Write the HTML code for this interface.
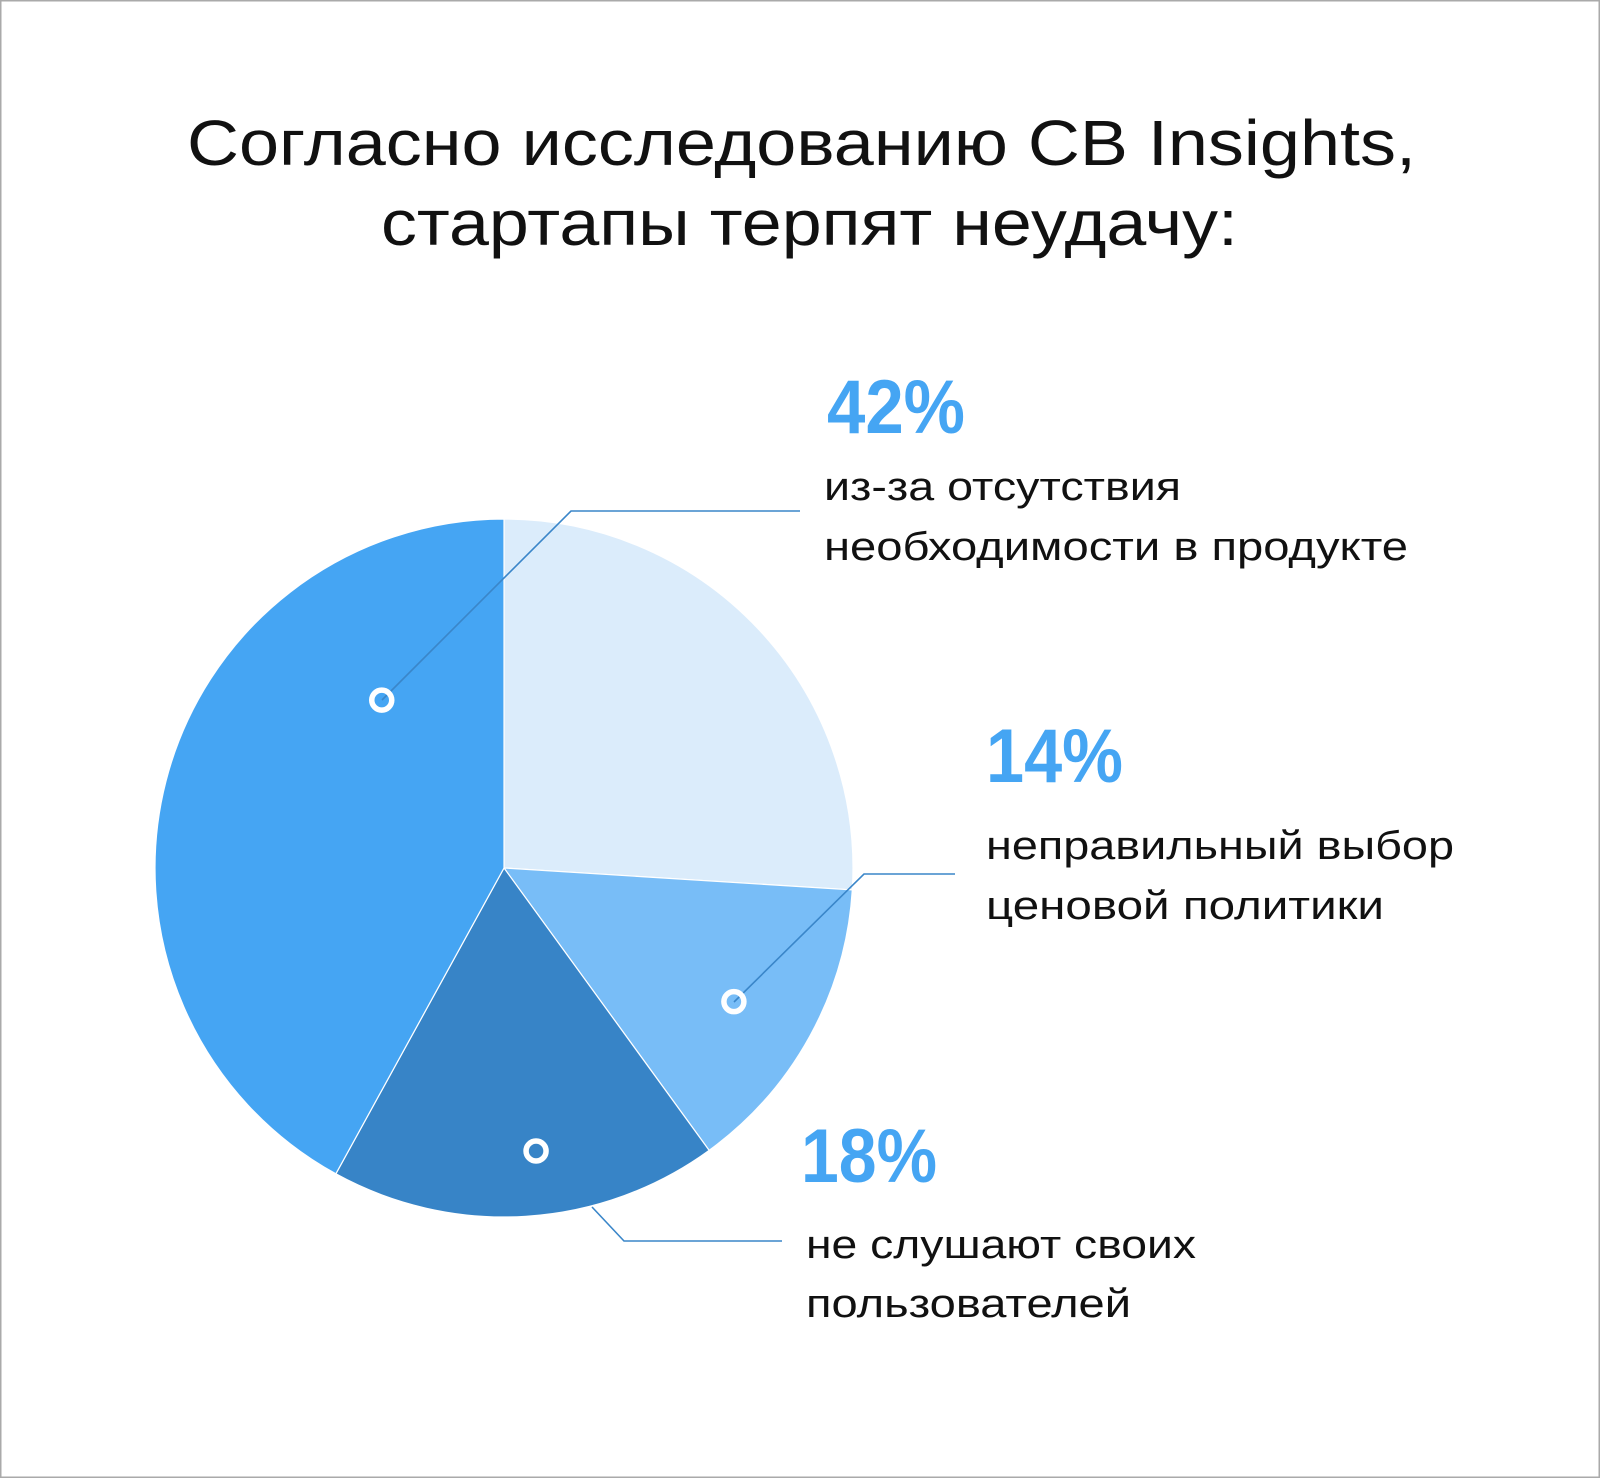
<!DOCTYPE html>
<html><head><meta charset="utf-8">
<style>
html,body{margin:0;padding:0;background:#fff;}
svg{display:block;}
text{font-family:"Liberation Sans","Noto Sans CJK SC",sans-serif;}
</style></head>
<body>
<svg id="chart" width="1600" height="1478" viewBox="0 0 1600 1478" xmlns="http://www.w3.org/2000/svg">
<rect x="0.5" y="0.5" width="1599" height="1477" fill="#fff" stroke="#aaa" stroke-width="2"/>
<text x="187" y="165" font-size="64" fill="#111" textLength="1229" lengthAdjust="spacingAndGlyphs">Согласно исследованию CB Insights,</text>
<text x="381" y="245" font-size="64" fill="#111" textLength="857" lengthAdjust="spacingAndGlyphs">стартапы терпят неудачу:</text>
<g id="slices"></g>
<g id="leaders" stroke="#3a86c9" stroke-width="1.6" fill="none">
<polyline points="382,700 571,511 800,511"/>
<polyline points="734,1002 864,874 955,874"/>
<polyline points="592,1207 624,1241 782,1241"/>
</g>
<g id="markers"></g>
<g>
<text x="827" y="433" font-size="76" font-weight="bold" fill="#45a5f3" textLength="138" lengthAdjust="spacingAndGlyphs">42%</text>
<text x="824" y="500" font-size="40" fill="#111" textLength="357" lengthAdjust="spacingAndGlyphs">из-за отсутствия</text>
<text x="824" y="560" font-size="40" fill="#111" textLength="584" lengthAdjust="spacingAndGlyphs">необходимости в продукте</text>
</g>
<g>
<text x="986" y="782" font-size="76" font-weight="bold" fill="#45a5f3" textLength="137" lengthAdjust="spacingAndGlyphs">14%</text>
<text x="986" y="859" font-size="40" fill="#111" textLength="468" lengthAdjust="spacingAndGlyphs">неправильный выбор</text>
<text x="986" y="919" font-size="40" fill="#111" textLength="398" lengthAdjust="spacingAndGlyphs">ценовой политики</text>
</g>
<g>
<text x="801" y="1182" font-size="76" font-weight="bold" fill="#45a5f3" textLength="136" lengthAdjust="spacingAndGlyphs">18%</text>
<text x="806" y="1258" font-size="40" fill="#111" textLength="390" lengthAdjust="spacingAndGlyphs">не слушают своих</text>
<text x="806" y="1317" font-size="40" fill="#111" textLength="325" lengthAdjust="spacingAndGlyphs">пользователей</text>
</g>
</svg>
<script>
const categories = ["other", "pricing", "not-listening", "no-market-need"];
const values = [26, 14, 18, 42];
const colors = ["#dbecfb", "#78bdf7", "#3784c7", "#45a5f3"];
const markerSlices = [3, 1, 2];

const NS = "http://www.w3.org/2000/svg";
const cx = 504, cy = 868, r = 349;
const total = values.reduce((a, b) => a + b, 0);
function angleOf(v) { return v / total * 2 * Math.PI; }
function pt(a, rad) { return [cx + rad * Math.sin(a), cy - rad * Math.cos(a)]; }

const g = document.getElementById("slices");
const mg = document.getElementById("markers");
let acc = 0;
const mids = [];
values.forEach((v, i) => {
  const a0 = angleOf(acc), a1 = angleOf(acc + v);
  acc += v;
  mids.push([a0, a1]);
  const p0 = pt(a0, r), p1 = pt(a1, r);
  const large = (a1 - a0) > Math.PI ? 1 : 0;
  const path = document.createElementNS(NS, "path");
  path.setAttribute("d", `M${cx},${cy} L${p0[0]},${p0[1]} A${r},${r} 0 ${large} 1 ${p1[0]},${p1[1]} Z`);
  path.setAttribute("fill", colors[i]);
  path.setAttribute("stroke", "#fff");
  path.setAttribute("stroke-width", "1.2");
  
  
  g.appendChild(path);
});
const markerRad = { 3: 0.595, 1: 0.762, 2: 0.816 };
const markerOff = { 3: 0.69, 1: 0.024, 2: -0.05 };
markerSlices.forEach(i => {
  const [a0, a1] = mids[i];
  const p = pt((a0 + a1) / 2 + markerOff[i], r * markerRad[i]);
  const c = document.createElementNS(NS, "circle");
  c.setAttribute("cx", p[0]); c.setAttribute("cy", p[1]); c.setAttribute("r", 10);
  c.setAttribute("fill", "none"); c.setAttribute("stroke", "#fff"); c.setAttribute("stroke-width", "5.5");
  
  
  mg.appendChild(c);
});
</script>
</body></html>
